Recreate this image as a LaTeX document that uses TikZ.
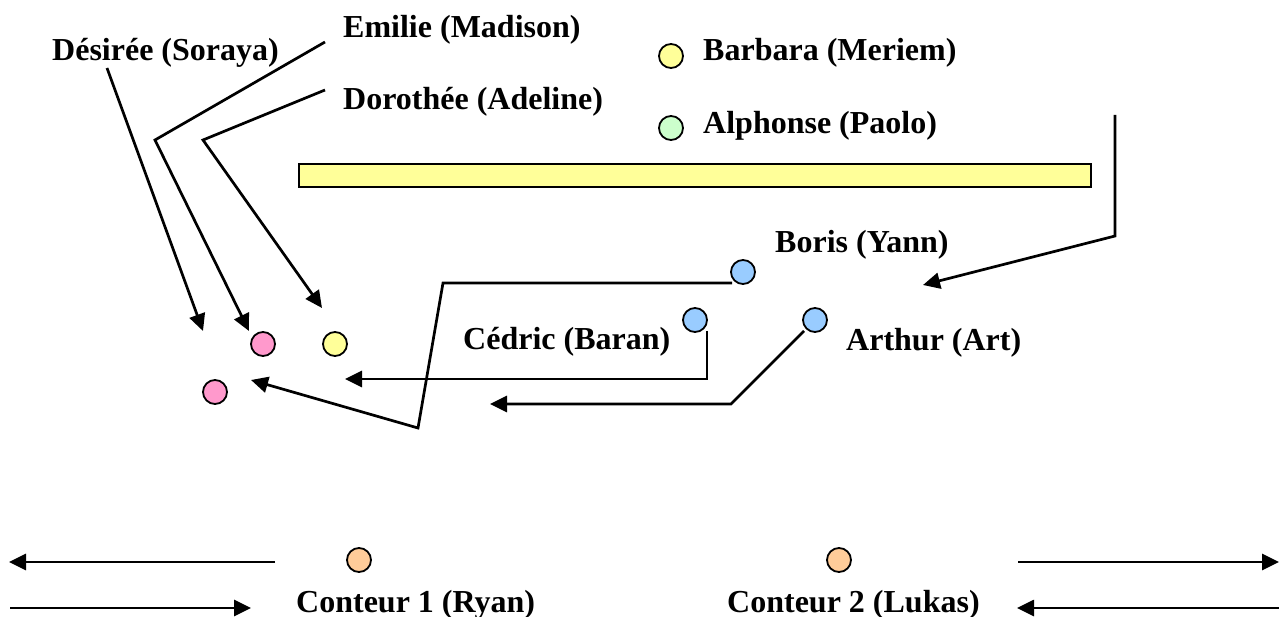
\documentclass[tikz,border=0pt]{standalone}
\usepackage{fontspec}
\setmainfont{Liberation Serif}
\usetikzlibrary{arrows.meta}

\definecolor{rose}{HTML}{FF99CC}
\definecolor{jaune}{HTML}{FFFF99}
\definecolor{vert}{HTML}{CCFFCC}
\definecolor{bleu}{HTML}{99CCFF}
\definecolor{orange}{HTML}{FFCC99}

\begin{document}
\begin{tikzpicture}[x=1pt,y=-1pt]
		\tikzset{pion/.style={circle,draw,line width=1.8pt,minimum size=24pt,inner sep=0pt}};
		\tikzset{nom/.style={anchor=base west,inner sep=0pt,font=\bfseries\fontsize{32}{38}\selectfont}};
		\tikzset{fl/.style={line width=2.7pt,-{Triangle[length=17pt,width=16pt]}}};
		
		\useasboundingbox (0,0) rectangle (1279,617);
		
		% noms
		\node[nom] (desiree) at (52,61) {Désirée (Soraya)};
		\node[nom] (emilie) at (343,38) {Emilie (Madison)};
		\node[nom] (dorothee) at (343,110) {Dorothée (Adeline)};
		\node[nom] (barbara) at (703,61) {Barbara (Meriem)};
		\node[nom] (alphonse) at (703,134) {Alphonse (Paolo)};
		\node[nom] (boris) at (775,253) {Boris (Yann)};
		\node[nom] (cedric) at (463,349) {Cédric (Baran)};
		\node[nom] (arthur) at (846,351) {Arthur (Art)};
		\node[nom] (conteur1) at (296,612) {Conteur 1 (Ryan)};
		\node[nom] (conteur2) at (727,612) {Conteur 2 (Lukas)};
		
		% pions
		\node[pion,fill=jaune] (pb) at (671,56) {};
		\node[pion,fill=vert] (pa) at (671,128) {};
		\node[pion,fill=bleu] (pboris) at (743,272) {};
		\node[pion,fill=bleu] (pcedric) at (695,320) {};
		\node[pion,fill=bleu] (parthur) at (815,320) {};
		\node[pion,fill=rose] (p1) at (263,344) {};
		\node[pion,fill=jaune] (p2) at (335,344) {};
		\node[pion,fill=rose] (p3) at (215,392) {};
		\node[pion,fill=orange] (pc1) at (359,560) {};
		\node[pion,fill=orange] (pc2) at (839,560) {};
		
		% scene
		\draw[line width=2.2pt,fill=jaune] (299,164) rectangle (1091,187);
		
		% deplacements
		\coordinate (d0) at (107,68); \coordinate (d1) at (203,331);
		\draw[fl] (d0) -- (d1);
		\coordinate (e0) at (325,42); \coordinate (e1) at (155,140); \coordinate (e2) at (249,331);
		\draw[fl] (e0) -- (e1) -- (e2);
		\coordinate (o0) at (325,90); \coordinate (o1) at (203,140); \coordinate (o2) at (322,308);
		\draw[fl] (o0) -- (o1) -- (o2);
		\coordinate (r0) at (1115,115); \coordinate (r1) at (1115,236); \coordinate (r2) at (923,285);
		\draw[fl] (r0) -- (r1) -- (r2);
		\coordinate (b0) at (732,283); \coordinate (b1) at (443,283); \coordinate (b2) at (418,428); \coordinate (b3) at (251,380);
		\draw[fl] (b0) -- (b1) -- (b2) -- (b3);
		\coordinate (c0) at (707,331); \coordinate (c1) at (707,379); \coordinate (c2) at (345,379);
		\draw[fl] (c0) -- (c1) -- (c2);
		\coordinate (a0) at (804,331); \coordinate (a1) at (731,404); \coordinate (a2) at (490,404);
		\draw[fl] (a0) -- (a1) -- (a2);
		
		% conteurs
		\coordinate (g0) at (275,562); \coordinate (g1) at (9,562);
		\coordinate (g2) at (10,608); \coordinate (g3) at (251,608);
		\draw[fl] (g0) -- (g1);
		\draw[fl] (g2) -- (g3);
		\coordinate (h0) at (1018,562); \coordinate (h1) at (1279,562);
		\coordinate (h2) at (1279,608); \coordinate (h3) at (1017,608);
		\draw[fl] (h0) -- (h1);
		\draw[fl] (h2) -- (h3);
\end{tikzpicture}
\end{document}
